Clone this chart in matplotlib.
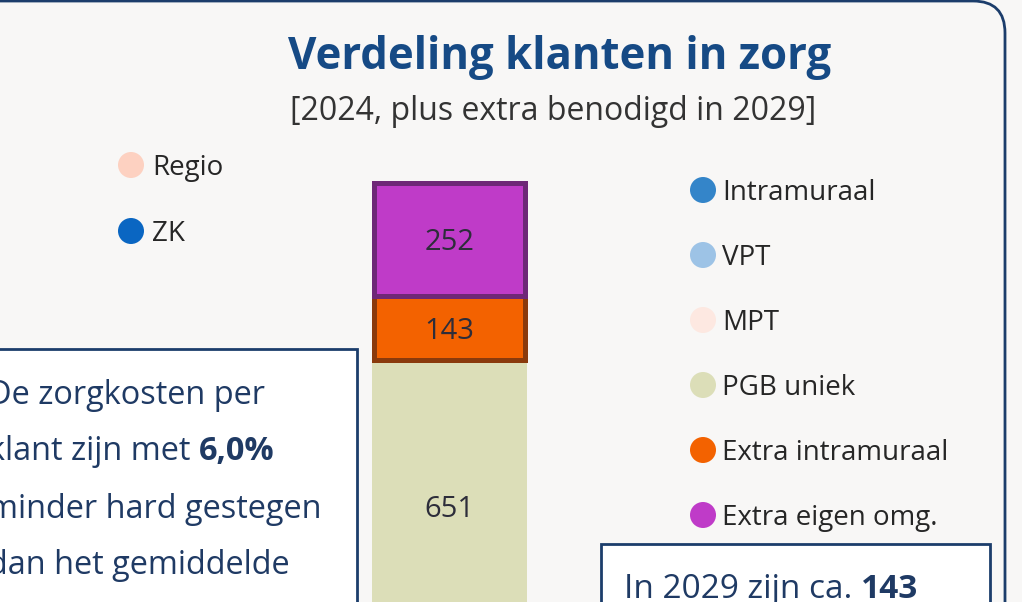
import matplotlib
matplotlib.use("Agg")
import matplotlib.pyplot as plt
from matplotlib.patches import FancyBboxPatch, Rectangle, Circle
import numpy as np

plt.rcParams['font.family'] = ['Open Sans', 'DejaVu Sans']

# stacked bar (visible part only)
segments = ["PGB uniek", "Extra intramuraal", "Extra eigen omg."]
values = [651, 143, 252]
seg_colors = ["#dcdeb8", "#f36200", "#bf3bc8"]
seg_edges = [None, "#8a3a0c", "#6e2877"]

legend_labels = ["Intramuraal", "VPT", "MPT", "PGB uniek", "Extra intramuraal", "Extra eigen omg."]
legend_colors = ["#3485c9", "#9dc3e6", "#fde8e1", "#dcdeb8", "#f36200", "#bf3bc8"]
ref_labels = ["Regio", "ZK"]
ref_colors = ["#fdd1c1", "#0a66c2"]

title = "Verdeling klanten in zorg"
subtitle = "[2024, plus extra benodigd in 2029]"
left_lines = [[("De zorgkosten per", "normal")],
              [("klant zijn met ", "normal"), ("6,0%", "bold")],
              [("minder hard gestegen", "normal")],
              [("dan het gemiddelde", "normal")]]
right_lines = [[("In 2029 zijn ca. ", "normal"), ("143", "bold")]]

NAVY = "#1c3d6b"
TXT = "#1f3a64"
W, H = 1022, 602

fig = plt.figure(figsize=(W / 100, H / 100), dpi=100)
fig.patch.set_facecolor("#f8f7f6")
bg = fig.add_axes([0, 0, 1, 1])
bg.set_xlim(0, W)
bg.set_ylim(H, 0)
bg.axis('off')

# panel + text boxes
bg.add_patch(FancyBboxPatch((-60, 1), 1065, 700, boxstyle="round,pad=0,rounding_size=32",
                            fc="#f8f7f6", ec=NAVY, lw=2))
bg.add_patch(Rectangle((-20, 349), 377, 400, fc="white", ec=NAVY, lw=2))
bg.add_patch(Rectangle((601, 544), 389, 100, fc="white", ec=NAVY, lw=2))

bg.text(560, 58, title, ha='center', va='center', fontsize=31.5, fontweight='bold', color="#164a85")
bg.text(553, 112, subtitle, ha='center', va='center', fontsize=23, color="#333333")

renderer = fig.canvas.get_renderer()


def rich(x, y, parts, **kw):
    for s, w in parts:
        t = bg.text(x, y, s, fontweight=w, va='center', ha='left', **kw)
        x += t.get_window_extent(renderer=renderer).width


for i, parts in enumerate(left_lines):
    rich(-12, 395 + 57 * i, parts, fontsize=23.4, color=TXT)
for i, parts in enumerate(right_lines):
    rich(624, 589 + 57 * i, parts, fontsize=24, color=TXT)

# legends
for i, (lab, c) in enumerate(zip(legend_labels, legend_colors)):
    y = 190 + 65 * i
    bg.add_patch(Circle((703, y), 13, fc=c, ec='none'))
    bg.text(722, y + 3, lab, va='center', fontsize=20, color="#262626")
for i, (lab, c) in enumerate(zip(ref_labels, ref_colors)):
    y = 165 + 66 * i
    bg.add_patch(Circle((131, y), 13, fc=c, ec='none'))
    bg.text(152, y + 3, lab, va='center', fontsize=20, color="#262626")

# bar axes
ppu = 0.448
top_px = 183
total = sum(values)
ax = fig.add_axes([0, 0, 1, 1])
ax.patch.set_visible(False)
ax.axis('off')
ax.set_xlim(0, W)
ax.set_ylim(total - (H - top_px) / ppu, total + top_px / ppu)

bottoms = np.concatenate([[0], np.cumsum(values)[:-1]])
for v, b, c, e in zip(values, bottoms, seg_colors, seg_edges):
    if e:
        ax.bar(449.5, v, width=151, bottom=b, color=c, edgecolor=e, linewidth=3.6)
    else:
        ax.bar(449.5, v, width=155, bottom=b, color=c, linewidth=0)
    ax.text(449.5, b + v / 2, str(v), ha='center', va='center_baseline', fontsize=21, color="#2d2d3a")

fig.savefig("out.png", dpi=100)
